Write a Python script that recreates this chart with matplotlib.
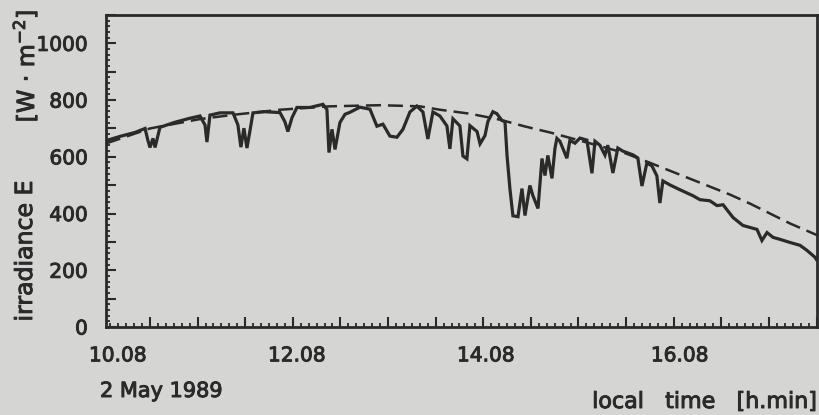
import matplotlib
matplotlib.use("Agg")
import matplotlib.pyplot as plt
from matplotlib.ticker import MultipleLocator, FuncFormatter
import matplotlib.transforms as mtransforms
import matplotlib.patheffects as pe

# time in minutes after 10:08 local time, irradiance in W m^-2
meas_t = [2.3, 11.1, 20.6, 26.9, 28.7, 30.0, 31.9, 33.2, 36.3, 45.8,
          55.2, 61.5, 64.7, 65.9, 67.8, 74.1, 82.3, 85.4, 87.3, 89.2,
          91.1, 93.1, 94.9, 102.5, 111.9, 115.0, 116.9, 119.5, 122.6, 130.8,
          139.0, 141.5, 142.8, 144.7, 146.6, 149.7, 152.9, 156.0, 162.3, 168.6,
          173.0, 176.8, 181.2, 185.6, 189.4, 193.8, 198.2, 202.0, 205.1, 208.3,
          212.7, 217.1, 219.0, 220.9, 225.3, 227.2, 229.7, 231.6, 236.1, 238.0,
          241.1, 242.9, 246.1, 248.6, 251.8, 253.7, 255.0, 256.8, 258.7, 261.9,
          264.4, 266.3, 269.4, 271.3, 274.5, 277.0, 278.9, 280.7, 283.3, 285.2,
          286.4, 288.3, 292.7, 294.6, 297.8, 300.9, 305.3, 308.5, 310.4, 313.5,
          316.7, 318.5, 321.7, 324.8, 328.0, 334.3, 337.4, 340.0, 343.1, 346.3,
          349.4, 351.3, 353.2, 357.6, 363.9, 372.1, 376.5, 382.8, 387.3, 391.1,
          397.4, 403.6, 408.1, 412.5, 415.6, 418.8, 422.6, 427.0, 433.3, 439.6,
          444.0, 449.0, 450.3]
meas_e = [657, 672, 686, 700, 658, 633, 665, 633, 704, 722,
          736, 744, 712, 652, 747, 755, 755, 713, 634, 701,
          631, 695, 755, 759, 756, 724, 689, 738, 774, 774,
          785, 767, 615, 697, 626, 721, 750, 757, 775, 768,
          708, 715, 673, 669, 697, 758, 779, 758, 663, 758,
          744, 709, 628, 734, 709, 603, 593, 710, 689, 646,
          675, 724, 759, 752, 728, 724, 604, 488, 392, 389,
          488, 393, 499, 463, 418, 594, 534, 605, 524, 630,
          665, 655, 595, 658, 648, 666, 659, 542, 655, 641,
          606, 641, 543, 631, 620, 607, 596, 497, 578, 568,
          533, 437, 515, 501, 484, 463, 449, 445, 428, 431,
          386, 358, 351, 344, 305, 333, 316, 309, 298, 288,
          270, 246, 235]

# clear-sky reference curve
clear_t = [2.3, 30.0, 61.5, 82.3, 111.9, 143.4, 174.9, 200.1, 212.7, 231.6,
           250.5, 266.3, 282.0, 297.8, 313.5, 329.3, 345.0, 357.6, 370.2, 382.8,
           395.4, 408.1, 420.7, 433.3, 450.3]
clear_e = [647, 700, 733, 748, 766, 778, 782, 778, 766, 752,
           731, 707, 686, 662, 638, 613, 579, 551, 523, 495,
           467, 435, 400, 365, 324]

time_label_pos = [9.8, 122.6, 241.7, 363.8]
time_labels = ["10.08", "12.08", "14.08", "16.08"]

paper = "#d5d5d3"
ink = "#2a2a2a"

plt.rcParams["font.family"] = ["DejaVu Sans"]

# slightly heavier strokes for printed-looking text
heavy = [pe.withStroke(linewidth=0.7, foreground=ink)]

fig = plt.figure(figsize=(8.2, 4.15), dpi=100, facecolor=paper)
ax = fig.add_axes([106 / 820, 1 - 327 / 415, 711 / 820, 312 / 415])
ax.set_facecolor(paper)

ax.plot(clear_t, clear_e, color=ink, lw=1.8, dashes=(6, 2.8))
ax.plot(meas_t, meas_e, color=ink, lw=2.3, solid_joinstyle="miter")

ax.set_xlim(2.3, 450.3)
ax.set_ylim(0, 1100)

for s in ax.spines.values():
    s.set_linewidth(2.0)
    s.set_color(ink)

ax.xaxis.set_major_locator(MultipleLocator(30))
ax.xaxis.set_minor_locator(MultipleLocator(5))
ax.yaxis.set_major_locator(MultipleLocator(100))
ax.yaxis.set_minor_locator(MultipleLocator(20))
ax.yaxis.set_major_formatter(
    FuncFormatter(lambda v, p: f"{int(v)}" if int(round(v)) % 200 == 0 else ""))
ax.xaxis.set_major_formatter(FuncFormatter(lambda v, p: ""))

ax.tick_params(axis="both", which="both", direction="in", color=ink,
               top=False, right=False)
ax.tick_params(axis="both", which="major", length=7, width=1.5)
ax.tick_params(axis="both", which="minor", length=3.2, width=1.3)
ax.tick_params(axis="y", which="major", labelsize=14.5, labelcolor=ink, pad=13)
for lab in ax.get_yticklabels():
    lab.set_path_effects(heavy)

trans = mtransforms.blended_transform_factory(ax.transData, ax.transAxes)
for xpos, lab in zip(time_label_pos, time_labels):
    ax.text(xpos, -0.062, lab, transform=trans, ha="center", va="top",
            fontsize=14.5, color=ink, path_effects=heavy)

fig.text(100 / 820, 1 - 397 / 415, "2 May 1989", ha="left", va="baseline",
         fontsize=15, color=ink, path_effects=heavy)
fig.text(0.997, 1 - 408 / 415, "local   time   [h.min]", ha="right",
         va="baseline", fontsize=16, color=ink, path_effects=heavy)

fig.text(25 / 820, 1 - 251 / 415, "irradiance E", rotation=90,
         ha="center", va="center", fontsize=17, color=ink, path_effects=heavy)
fig.text(25 / 820, 1 - 66 / 415, "[W · m$^{-2}$]", rotation=90,
         ha="center", va="center", fontsize=17, color=ink, path_effects=heavy)

fig.savefig("out.png", dpi=100, facecolor=paper)
